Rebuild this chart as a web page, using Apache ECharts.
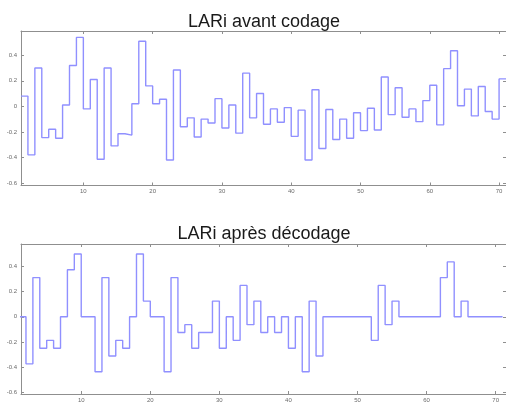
<!DOCTYPE html>
<html>
<head>
<meta charset="utf-8">
<script src="https://cdn.jsdelivr.net/npm/echarts@6/dist/echarts.min.js"></script>
<style>html,body{margin:0;padding:0;background:#fff}#c{width:506px;height:403px}</style>
</head>
<body>
<div id="c"></div>
<script>
// Data
const titleTop = 'LARi avant codage';
const titleBottom = 'LARi après décodage';
const indices = [1,2,3,4,5,6,7,8,9,10,11,12,13,14,15,16,17,18,19,20,21,22,23,24,25,26,27,28,29,30,31,32,33,34,35,36,37,38,39,40,41,42,43,44,45,46,47,48,49,50,51,52,53,54,55,56,57,58,59,60,61,62,63,64,65,66,67,68,69,70];
const larAvant = [0.08,-0.38,0.30,-0.245,-0.18,-0.25,0.01,0.32,0.54,-0.02,
  0.21,-0.415,0.30,-0.31,-0.215,-0.225,0.02,0.51,0.16,0.02,
  0.055,-0.42,0.285,-0.16,-0.09,-0.24,-0.10,-0.13,0.06,-0.17,
  0.01,-0.21,0.26,-0.09,0.10,-0.14,-0.02,-0.125,-0.01,-0.235,
  -0.03,-0.42,0.13,-0.33,-0.025,-0.26,-0.10,-0.25,-0.05,-0.19,
  -0.015,-0.185,0.23,-0.065,0.145,-0.085,-0.02,-0.12,0.045,0.165,
  -0.145,0.295,0.435,0.005,0.135,-0.075,0.155,-0.04,-0.10,0.215];
const larApres = [0,-0.375,0.3125,-0.25,-0.1875,-0.25,0,0.375,0.5,0,
  0,-0.4375,0.3125,-0.3125,-0.1875,-0.25,0,0.5,0.125,0,
  0,-0.4375,0.3125,-0.125,-0.0625,-0.25,-0.125,-0.125,0.125,-0.25,
  0,-0.1875,0.25,-0.0625,0.125,-0.125,0,-0.125,0,-0.25,
  0,-0.4375,0.125,-0.3125,0,0,0,0,0,0,
  0,-0.1875,0.25,-0.0625,0.125,0,0,0,0,0,
  0,0.3125,0.4375,0,0.125,0,0,0,0,0];
const xTicks = [10,20,30,40,50,60,70];
const yTicks = [-0.6,-0.4,-0.2,0,0.2,0.4];

function stairs(xs, ys) {
  const d = xs.map((x, i) => [x, ys[i]]);
  d.push([xs[xs.length - 1] + 1, ys[ys.length - 1]]);
  return d;
}

const axisCol = '#8f8f8f';
const lblCol = '#6a6a6a';
function xAx(grid, pos, min, max, labels) {
  return {
    type: 'value', gridIndex: grid, position: pos, min: min, max: max,
    axisLine: {show: true, onZero: false, lineStyle: {color: axisCol, width: 1}},
    axisTick: {show: true, inside: true, length: 3, customValues: xTicks, lineStyle: {color: axisCol}},
    axisLabel: {show: labels, customValues: xTicks, fontSize: 6, color: lblCol, margin: 3, fontFamily: 'Liberation Sans'},
    splitLine: {show: false}
  };
}
function yAx(grid, pos, min, max, labels) {
  return {
    type: 'value', gridIndex: grid, position: pos, min: min, max: max,
    axisLine: {show: true, onZero: false, lineStyle: {color: axisCol, width: 1}},
    axisTick: {show: true, inside: true, length: 3, customValues: yTicks, lineStyle: {color: axisCol}},
    axisLabel: {show: labels, customValues: yTicks, fontSize: 6, color: lblCol, margin: 4, fontFamily: 'Liberation Sans',
      formatter: v => String(+(+v).toFixed(1))},
    splitLine: {show: false}
  };
}

const chart = echarts.init(document.getElementById('c'), null, {renderer: 'canvas'});
chart.setOption({
  animation: false,
  backgroundColor: '#ffffff',
  title: [
    {text: titleTop, left: 259, top: 8, textAlign: 'center',
      textStyle: {fontSize: 18, fontWeight: 'normal', color: '#1a1a1a', fontFamily: 'Liberation Sans'}},
    {text: titleBottom, left: 259, top: 220, textAlign: 'center',
      textStyle: {fontSize: 18, fontWeight: 'normal', color: '#1a1a1a', fontFamily: 'Liberation Sans'}}
  ],
  grid: [
    {left: 21, top: 31, right: -1, height: 154.5},
    {left: 21, top: 244, right: -1, height: 155}
  ],
  xAxis: [
    xAx(0, 'bottom', 1, 71, true),
    xAx(0, 'top', 1, 71, false),
    xAx(1, 'bottom', 1.28, 71.5, true),
    xAx(1, 'top', 1.28, 71.5, false)
  ],
  yAxis: [
    yAx(0, 'left', -0.62, 0.59, true),
    yAx(0, 'right', -0.62, 0.59, false),
    yAx(1, 'left', -0.615, 0.58, true),
    yAx(1, 'right', -0.615, 0.58, false)
  ],
  series: [
    {type: 'line', xAxisIndex: 0, yAxisIndex: 0, step: 'end', showSymbol: false, symbol: 'none',
      data: stairs(indices, larAvant), lineStyle: {color: '#9090ff', width: 1.4}, clip: true},
    {type: 'line', xAxisIndex: 2, yAxisIndex: 2, step: 'end', showSymbol: false, symbol: 'none',
      data: stairs(indices, larApres), lineStyle: {color: '#9090ff', width: 1.4}, clip: true}
  ]
});
</script>
</body>
</html>
